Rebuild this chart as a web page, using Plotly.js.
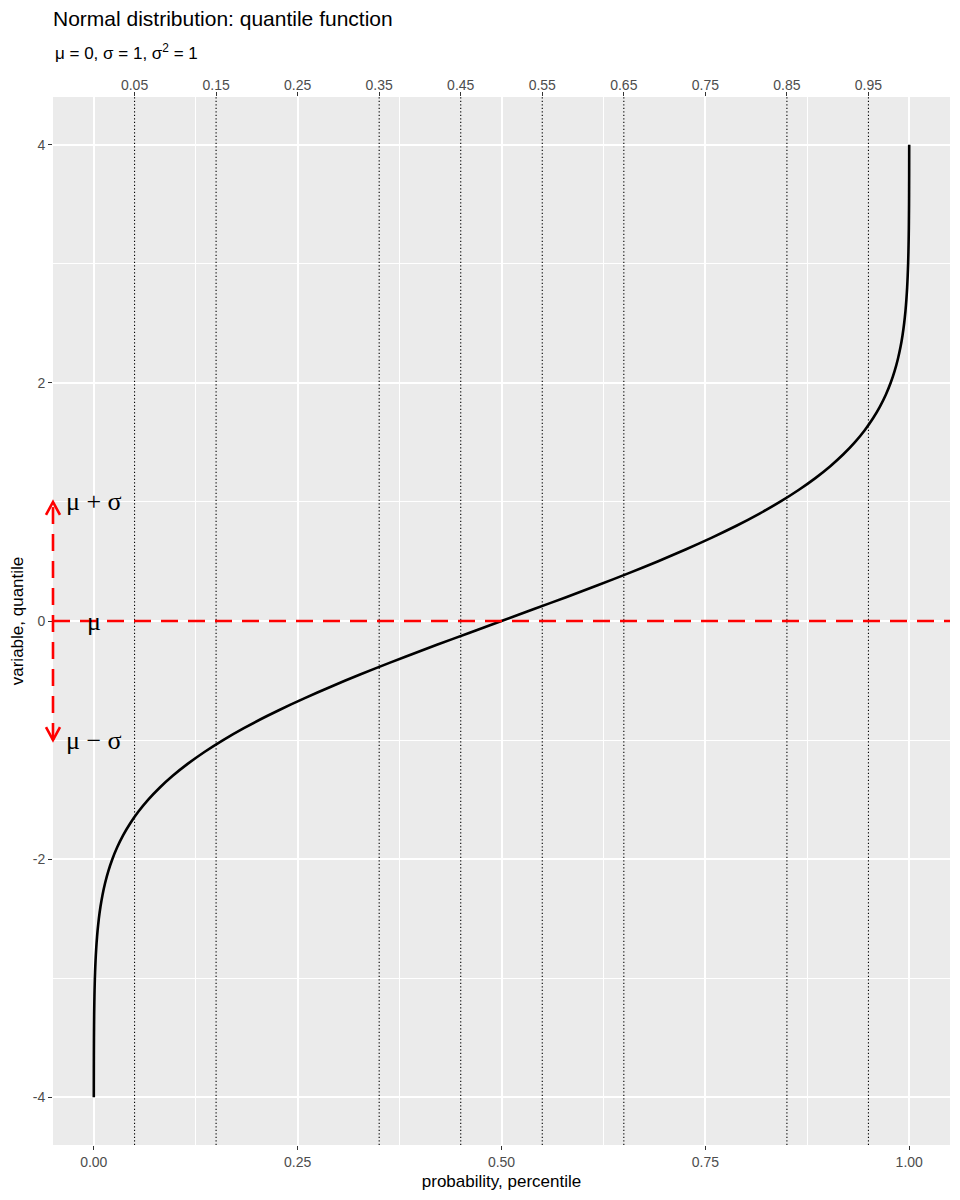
<!DOCTYPE html>
<html>
<head>
<meta charset="utf-8">
<script src="https://cdn.plot.ly/plotly-3.0.1.min.js"></script>
<style>html,body{margin:0;padding:0;background:#fff;} #chart{width:960px;height:1200px;}</style>
</head>
<body>
<div id="chart"></div>
<script>
// Curve: probability (x) vs quantile (y)
const probs = [0.00003, 0.00005, 0.00007, 0.00011, 0.00016, 0.00023, 0.00034, 0.00048, 0.00069, 0.00097,
  0.00135, 0.00187, 0.00256, 0.00347, 0.00466, 0.00621, 0.00820, 0.01072, 0.01390, 0.01786,
  0.02275, 0.02872, 0.03593, 0.04457, 0.05480, 0.06681, 0.08076, 0.09680, 0.11507, 0.13567,
  0.15866, 0.18406, 0.21186, 0.24196, 0.27425, 0.30854, 0.34458, 0.38209, 0.42074, 0.46017,
  0.5,
  0.53983, 0.57926, 0.61791, 0.65542, 0.69146, 0.72575, 0.75804, 0.78814, 0.81594, 0.84134,
  0.86433, 0.88493, 0.90320, 0.91924, 0.93319, 0.94520, 0.95543, 0.96407, 0.97128, 0.97725,
  0.98214, 0.98610, 0.98928, 0.99180, 0.99379, 0.99534, 0.99653, 0.99744, 0.99813, 0.99865,
  0.99903, 0.99931, 0.99952, 0.99966, 0.99977, 0.99984, 0.99989, 0.99993, 0.99995, 0.99997];
const quants = [-4.0, -3.9, -3.8, -3.7, -3.6, -3.5, -3.4, -3.3, -3.2, -3.1,
  -3.0, -2.9, -2.8, -2.7, -2.6, -2.5, -2.4, -2.3, -2.2, -2.1,
  -2.0, -1.9, -1.8, -1.7, -1.6, -1.5, -1.4, -1.3, -1.2, -1.1,
  -1.0, -0.9, -0.8, -0.7, -0.6, -0.5, -0.4, -0.3, -0.2, -0.1,
  0.0,
  0.1, 0.2, 0.3, 0.4, 0.5, 0.6, 0.7, 0.8, 0.9, 1.0,
  1.1, 1.2, 1.3, 1.4, 1.5, 1.6, 1.7, 1.8, 1.9, 2.0,
  2.1, 2.2, 2.3, 2.4, 2.5, 2.6, 2.7, 2.8, 2.9, 3.0,
  3.1, 3.2, 3.3, 3.4, 3.5, 3.6, 3.7, 3.8, 3.9, 4.0];

const mu = 0;
const sigma = 1;
const refLabels = ['μ + σ', 'μ', 'μ − σ'];
const refLabelY = [mu + sigma, mu, mu - sigma];

const topTicks = [0.05, 0.15, 0.25, 0.35, 0.45, 0.55, 0.65, 0.75, 0.85, 0.95];
const topTickText = ['0.05', '0.15', '0.25', '0.35', '0.45', '0.55', '0.65', '0.75', '0.85', '0.95'];
const xTicks = [0, 0.25, 0.5, 0.75, 1];
const xTickText = ['0.00', '0.25', '0.50', '0.75', '1.00'];
const xMinor = [0.125, 0.375, 0.625, 0.875];
const yTicks = [-4, -2, 0, 2, 4];
const yTickText = ['-4', '-2', '0', '2', '4'];
const yMinor = [-3, -1, 1, 3];

const FONT = 'Liberation Sans, Arial, sans-serif';
const RED = '#FF0000';

const traces = [
  {
    x: probs, y: quants, type: 'scatter', mode: 'lines',
    line: {color: '#000000', width: 2.6, shape: 'spline', smoothing: 0.5},
    showlegend: false, hoverinfo: 'skip'
  },
  {
    x: topTicks, y: topTicks.map(() => mu), xaxis: 'x2', yaxis: 'y',
    type: 'scatter', mode: 'markers', marker: {size: 1, opacity: 0},
    showlegend: false, hoverinfo: 'skip'
  }
];

const shapes = [];
topTicks.forEach(t => {
  shapes.push({type: 'line', xref: 'x', yref: 'paper', x0: t, x1: t, y0: 0, y1: 1,
    line: {color: '#000000', width: 1.1, dash: '1.3px,2.2px'}, layer: 'below'});
});
// mean line
shapes.push({type: 'line', xref: 'paper', yref: 'y', x0: 0, x1: 1, y0: mu, y1: mu,
  line: {color: RED, width: 2.6, dash: '17px,10px'}});
// mu ± sigma arrow
shapes.push({type: 'line', xref: 'paper', yref: 'y', x0: 0, x1: 0, y0: mu - sigma, y1: mu + sigma,
  line: {color: RED, width: 2.6, dash: '17px,10px'}});
shapes.push({type: 'path', xref: 'paper', yref: 'y', xsizemode: 'pixel', ysizemode: 'pixel',
  xanchor: 0, yanchor: mu + sigma, path: 'M-7,-13 L0,0 L7,-13',
  line: {color: RED, width: 2.6}});
shapes.push({type: 'path', xref: 'paper', yref: 'y', xsizemode: 'pixel', ysizemode: 'pixel',
  xanchor: 0, yanchor: mu - sigma, path: 'M-7,13 L0,0 L7,13',
  line: {color: RED, width: 2.6}});

const annotations = refLabels.map((t, i) => ({
  text: t, x: 0, y: refLabelY[i], xref: 'x', yref: 'y', showarrow: false,
  xanchor: 'center', yanchor: 'middle',
  font: {family: 'Liberation Serif, DejaVu Serif, serif', size: 26, color: '#000000'}
}));
annotations.push({
  text: 'μ = 0, σ = 1, σ<sup>2</sup> = 1', x: 0, y: 1 + (97 - 52) / 1048, xref: 'paper', yref: 'paper',
  xanchor: 'left', yanchor: 'middle', showarrow: false,
  font: {family: FONT, size: 17, color: '#000000'}
});

const axisCommon = {
  ticks: 'outside', ticklen: 4, tickwidth: 1, tickcolor: '#333333',
  tickfont: {family: FONT, size: 14, color: '#4D4D4D'},
  showline: false, zeroline: false,
  gridcolor: '#FFFFFF', gridwidth: 2
};

const layout = {
  width: 960, height: 1200,
  margin: {l: 53, r: 10, t: 97, b: 55},
  paper_bgcolor: '#FFFFFF', plot_bgcolor: '#EBEBEB',
  font: {family: FONT, color: '#000000'},
  title: {
    text: 'Normal distribution: quantile function',
    x: 0, xref: 'paper', xanchor: 'left',
    y: 1 - 19 / 1200, yref: 'container', yanchor: 'middle',
    font: {family: FONT, size: 21, color: '#000000'}
  },
  xaxis: Object.assign({}, axisCommon, {
    range: [-0.05, 1.05], tickvals: xTicks, ticktext: xTickText, showgrid: true,
    minor: {tickvals: xMinor, showgrid: true, gridcolor: '#FFFFFF', gridwidth: 1, ticks: ''},
    title: {text: 'probability, percentile', font: {family: FONT, size: 17, color: '#000000'}, standoff: 6}
  }),
  xaxis2: Object.assign({}, axisCommon, {
    overlaying: 'x', side: 'top', anchor: 'y', ticklabelstandoff: -4,
    range: [-0.05, 1.05], tickvals: topTicks, ticktext: topTickText, showgrid: false
  }),
  yaxis: Object.assign({}, axisCommon, {
    range: [-4.4, 4.4], tickvals: yTicks, ticktext: yTickText, showgrid: true,
    minor: {tickvals: yMinor, showgrid: true, gridcolor: '#FFFFFF', gridwidth: 1, ticks: ''},
    title: {text: 'variable, quantile', font: {family: FONT, size: 17, color: '#000000'}, standoff: 4}
  }),
  shapes: shapes,
  annotations: annotations,
  showlegend: false
};

Plotly.newPlot('chart', traces, layout, {displayModeBar: false, staticPlot: true});
</script>
</body>
</html>
